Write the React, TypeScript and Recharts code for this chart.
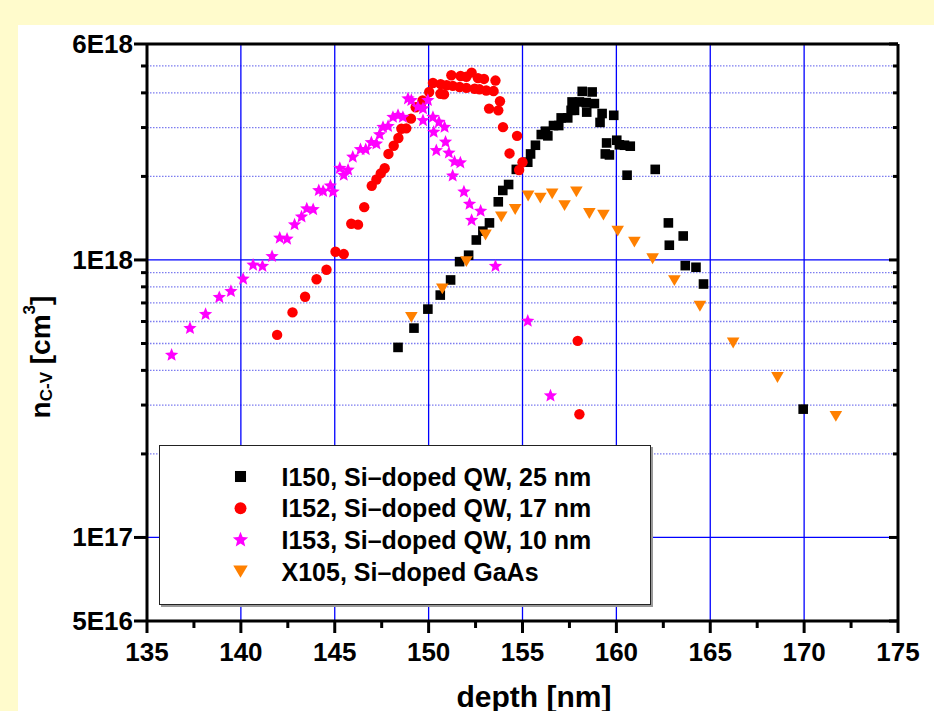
import React from 'react';
import {
  ScatterChart,
  Scatter,
  XAxis,
  YAxis,
  ReferenceLine,
  Legend,
} from 'recharts';

// ---------- data ----------
const I150_DEPTH = [
  148.37, 149.22, 149.96, 150.62, 151.17, 151.65, 152.13, 152.54, 152.89, 153.24, 153.71, 153.95, 154.26,
  154.67, 155.28, 155.43, 155.69, 156.0, 156.22, 156.35, 156.65, 156.93, 157.06, 157.41, 157.59, 157.77,
  157.64, 158.03, 158.39, 158.83, 158.18, 158.71, 158.42, 159.24, 159.13, 159.86, 159.48, 159.41, 159.63,
  160.02, 160.16, 160.43, 160.74, 160.57, 162.07, 162.77, 162.82, 163.56, 163.67, 164.24, 164.64, 169.95,
];
const I150_N = [
  4.84e17, 5.68e17, 6.65e17, 7.47e17, 8.47e17, 9.86e17, 1.04e18, 1.18e18, 1.27e18, 1.36e18, 1.62e18, 1.78e18, 1.87e18,
  2.12e18, 2.25e18, 2.41e18, 2.59e18, 2.83e18, 2.91e18, 2.8e18, 3.05e18, 3.05e18, 3.25e18, 3.25e18, 3.46e18, 3.46e18,
  3.71e18, 3.71e18, 3.69e18, 3.66e18, 4.05e18, 4.03e18, 3.41e18, 3.37e18, 3.13e18, 3.32e18, 2.64e18, 2.41e18, 2.39e18,
  2.7e18, 2.6e18, 2.59e18, 2.57e18, 2.02e18, 2.12e18, 1.36e18, 1.13e18, 1.22e18, 9.54e17, 9.41e17, 8.19e17, 2.9e17,
];

const I152_DEPTH = [
  141.93, 142.75, 143.42, 144.03, 144.56, 145.04, 145.48, 145.88, 146.24, 146.57, 146.97, 147.22, 147.45,
  147.66, 147.86, 148.14, 148.39, 148.55, 148.81, 149.06, 149.31, 149.57, 149.68, 150.03, 150.23, 150.63,
  150.82, 150.64, 150.96, 151.29, 151.65, 152.01, 152.45, 152.71, 153.07, 153.46, 151.21, 151.7, 152.01,
  152.29, 152.63, 152.95, 153.56, 153.8, 153.22, 153.71, 153.96, 154.71, 154.31, 155.0, 154.82, 157.94, 158.03,
];
const I152_N = [
  5.37e17, 6.47e17, 7.37e17, 8.52e17, 9.22e17, 1.07e18, 1.05e18, 1.35e18, 1.34e18, 1.55e18, 1.85e18, 1.95e18, 2.05e18,
  2.14e18, 2.41e18, 2.58e18, 2.75e18, 2.97e18, 2.98e18, 3.23e18, 3.55e18, 3.6e18, 3.76e18, 4.03e18, 4.34e18, 3.97e18,
  3.95e18, 4.3e18, 4.26e18, 4.24e18, 4.2e18, 4.17e18, 4.14e18, 4.12e18, 4.08e18, 4.06e18, 4.63e18, 4.6e18, 4.57e18,
  4.73e18, 4.52e18, 4.49e18, 4.43e18, 3.73e18, 3.51e18, 3.46e18, 3.01e18, 2.8e18, 2.42e18, 2.25e18, 2.11e18, 5.11e17, 2.78e17,
];

const I153_DEPTH = [
  136.31, 137.29, 138.12, 138.85, 139.47, 140.12, 140.65, 141.15, 141.66, 142.07, 142.46, 142.86, 143.23,
  143.51, 143.85, 144.15, 144.38, 144.77, 144.91, 145.27, 145.48, 145.71, 145.96, 146.37, 146.65, 146.95,
  147.22, 147.39, 147.57, 147.84, 148.1, 148.37, 148.63, 148.9, 149.08, 149.43, 149.7, 149.7, 149.96, 150.23,
  150.27, 150.41, 150.55, 150.85, 150.9, 151.08, 151.38, 151.69, 151.28, 151.88, 152.18, 152.77, 152.29,
  153.56, 155.28, 156.49,
];
const I153_N = [
  4.54e17, 5.67e17, 6.37e17, 7.33e17, 7.71e17, 8.54e17, 9.59e17, 9.49e17, 1.03e18, 1.2e18, 1.19e18, 1.34e18, 1.43e18,
  1.53e18, 1.52e18, 1.78e18, 1.77e18, 1.85e18, 1.76e18, 2.14e18, 2.02e18, 2.11e18, 2.35e18, 2.5e18, 2.5e18, 2.65e18,
  2.62e18, 2.83e18, 3.01e18, 3.03e18, 3.27e18, 3.32e18, 3.27e18, 3.81e18, 3.76e18, 3.56e18, 3.51e18, 3.18e18, 3.76e18, 3.27e18,
  2.89e18, 2.48e18, 3.14e18, 3.01e18, 2.66e18, 2.43e18, 2.26e18, 2.24e18, 2.01e18, 1.76e18, 1.59e18, 1.5e18, 1.39e18,
  9.49e17, 6.02e17, 3.24e17,
];

const X105_DEPTH = [
  149.08, 150.73, 152.01, 153.03, 153.87, 154.61, 155.3, 155.95, 156.58, 157.24, 157.87, 158.56, 159.31,
  160.07, 160.96, 161.93, 163.09, 164.45, 166.22, 168.58, 171.69,
];
const X105_N = [
  6.21e17, 7.86e17, 9.86e17, 1.23e18, 1.43e18, 1.52e18, 1.7e18, 1.67e18, 1.73e18, 1.57e18, 1.76e18, 1.47e18, 1.45e18,
  1.27e18, 1.16e18, 1.01e18, 8.42e17, 6.81e17, 5.02e17, 3.77e17, 2.73e17,
];

const SERIES_NAMES = [
  'I150, Si–doped QW, 25 nm',
  'I152, Si–doped QW, 17 nm',
  'I153, Si–doped QW, 10 nm',
  'X105, Si–doped GaAs',
];

// axis ticks
const X_TICKS = [135, 137.5, 140, 142.5, 145, 147.5, 150, 152.5, 155, 157.5, 160, 162.5, 165, 167.5, 170, 172.5, 175];
const X_GRID = [140, 145, 150, 155, 160, 165, 170];
const Y_MAJOR = [5e16, 1e17, 1e18, 6e18];
const Y_LABELS = ['5E16', '1E17', '1E18', '6E18'];
const Y_MINOR = [2e17, 3e17, 4e17, 5e17, 6e17, 7e17, 8e17, 9e17, 2e18, 3e18, 4e18, 5e18];
const Y_GRID = [1e17, 1e18];

const FONT = '"Liberation Sans", Arial, Helvetica, sans-serif';
const W = 934;
const H = 711;

const toPoints = (xs: number[], ys: number[]) => xs.map((x, i) => ({ x, y: ys[i] }));

const SERIES = [
  { name: SERIES_NAMES[0], data: toPoints(I150_DEPTH, I150_N), color: '#000000', kind: 'square' },
  { name: SERIES_NAMES[1], data: toPoints(I152_DEPTH, I152_N), color: '#ff0000', kind: 'circle' },
  { name: SERIES_NAMES[2], data: toPoints(I153_DEPTH, I153_N), color: '#ff00ff', kind: 'star' },
  { name: SERIES_NAMES[3], data: toPoints(X105_DEPTH, X105_N), color: '#ff8000', kind: 'triangle' },
];

// ---------- markers ----------
function starPath(cx: number, cy: number, R: number, r: number) {
  const pts: string[] = [];
  for (let i = 0; i < 10; i++) {
    const a = -Math.PI / 2 + (i * Math.PI) / 5;
    const rad = i % 2 === 0 ? R : r;
    pts.push(`${(cx + rad * Math.cos(a)).toFixed(2)},${(cy + rad * Math.sin(a)).toFixed(2)}`);
  }
  return `M${pts.join('L')}Z`;
}

function Marker({ kind, cx, cy, color, s = 1 }: { kind: string; cx: number; cy: number; color: string; s?: number }) {
  if (cx == null || cy == null) return null;
  if (kind === 'square') {
    const h = 4.8 * s;
    return <rect x={cx - h} y={cy - h} width={2 * h} height={2 * h} fill={color} />;
  }
  if (kind === 'circle') return <circle cx={cx} cy={cy} r={5.2 * s} fill={color} />;
  if (kind === 'star') return <path d={starPath(cx, cy, 7 * s, 3.1 * s)} fill={color} />;
  const w = 6.3 * s;
  const h = 5.4 * s;
  return <path d={`M${cx - w},${cy - h}L${cx + w},${cy - h}L${cx},${cy + h}Z`} fill={color} />;
}

// ---------- axis ticks ----------
const tickText = { fontFamily: FONT, fontWeight: 700, fontSize: 26, fill: '#000' };

const BottomTick = (p: any) => {
  const v = p.payload.value;
  const major = v % 5 === 0;
  return (
    <g>
      <line x1={p.x} x2={p.x} y1={p.y} y2={p.y + (major ? 12 : 7)} stroke="#000" strokeWidth={3} />
      {major && (
        <text x={p.x} y={p.y + 31} textAnchor="middle" dominantBaseline="central" {...tickText}>
          {v}
        </text>
      )}
    </g>
  );
};

const TopTick = (p: any) => {
  const major = p.payload.value % 5 === 0;
  return <line x1={p.x} x2={p.x} y1={p.y} y2={p.y + (major ? 13 : 6)} stroke="#000" strokeWidth={3} />;
};

const LeftTick = (p: any) => {
  const v = p.payload.value;
  const idx = Y_MAJOR.indexOf(v);
  const major = idx >= 0;
  return (
    <g>
      <line x1={p.x} x2={p.x - (major ? 13 : 6)} y1={p.y} y2={p.y} stroke="#000" strokeWidth={3} />
      {major && (
        <text x={p.x - 14} y={p.y} textAnchor="end" dominantBaseline="central" {...tickText}>
          {Y_LABELS[idx]}
        </text>
      )}
    </g>
  );
};

const RightTick = (p: any) => {
  const major = Y_MAJOR.indexOf(p.payload.value) >= 0;
  return <line x1={p.x} x2={p.x - (major ? 9 : 5)} y1={p.y} y2={p.y} stroke="#000" strokeWidth={3} />;
};

const YTitle = () => (
  <text
    x={40}
    y={357}
    transform="rotate(-90, 40, 357)"
    textAnchor="middle"
    dominantBaseline="central"
    fontFamily={FONT}
    fontWeight={700}
    fontSize={28}
    fill="#000"
  >
    n
    <tspan fontSize={17} dy={6}>C-V</tspan>
    <tspan fontSize={28} dy={-6}> [cm</tspan>
    <tspan fontSize={17} dy={-11}>3</tspan>
    <tspan fontSize={28} dy={11}>]</tspan>
  </text>
);

const XTitle = () => (
  <text x={534} y={696} textAnchor="middle" dominantBaseline="central" fontFamily={FONT} fontWeight={700} fontSize={30} fill="#000">
    depth [nm]
  </text>
);

const renderLegend = () => (
  <div
    style={{
      width: 492,
      height: 160,
      boxSizing: 'border-box',
      background: '#fff',
      border: '1.5px solid #222',
      boxShadow: '2px 2px 0 #999',
    }}
  >
    <svg width={489} height={157} style={{ display: 'block' }}>
      {SERIES.map((s, i) => (
        <g key={s.name}>
          <Marker kind={s.kind} cx={80.5} cy={30.5 + i * 31.7} color={s.color} s={1.15} />
          <text x={121.5} y={30.5 + i * 31.7} dominantBaseline="central" {...tickText} fontSize={25}>
            {s.name}
          </text>
        </g>
      ))}
    </svg>
  </div>
);

const axisLine = { stroke: '#000', strokeWidth: 3 };

export default function App() {
  return (
    <div style={{ position: 'absolute', left: 0, top: 0, width: W, height: H, background: '#fffbcc', overflow: 'hidden' }}>
      <div style={{ position: 'absolute', left: 18, top: 25, right: 0, bottom: 0, background: '#fff' }} />
      <div style={{ position: 'absolute', left: 0, top: 0 }}>
        <ScatterChart width={W} height={H} margin={{ top: 34, right: 26, bottom: 40, left: 47 }}>
          <XAxis
            dataKey="x"
            type="number"
            domain={[135, 175]}
            allowDataOverflow
            ticks={X_TICKS}
            interval={0}
            height={50}
            tickSize={0}
            tickMargin={0}
            tickLine={false}
            axisLine={axisLine}
            tick={BottomTick}
            label={<XTitle />}
          />
          <XAxis
            xAxisId="top"
            orientation="top"
            type="number"
            domain={[135, 175]}
            allowDataOverflow
            ticks={X_TICKS}
            interval={0}
            height={10}
            tickSize={0}
            tickMargin={0}
            tickLine={false}
            axisLine={axisLine}
            tick={TopTick}
          />
          <YAxis
            dataKey="y"
            type="number"
            scale="log"
            domain={[5e16, 6e18]}
            allowDataOverflow
            ticks={[...Y_MAJOR, ...Y_MINOR]}
            interval={0}
            width={100}
            tickSize={0}
            tickMargin={0}
            tickLine={false}
            axisLine={axisLine}
            tick={LeftTick}
            label={<YTitle />}
          />
          <YAxis
            yAxisId="right"
            orientation="right"
            type="number"
            scale="log"
            domain={[5e16, 6e18]}
            allowDataOverflow
            ticks={[...Y_MAJOR, ...Y_MINOR]}
            interval={0}
            width={10}
            tickSize={0}
            tickMargin={0}
            tickLine={false}
            axisLine={axisLine}
            tick={RightTick}
          />
          {Y_MINOR.map((v) => (
            <ReferenceLine key={`ym${v}`} y={v} stroke="#7c7cf0" strokeWidth={1.3} strokeDasharray="1.5 1.5" />
          ))}
          {Y_GRID.map((v) => (
            <ReferenceLine key={`yg${v}`} y={v} stroke="#0000ff" strokeWidth={1.3} />
          ))}
          {X_GRID.map((v) => (
            <ReferenceLine key={`xg${v}`} x={v} stroke="#0000ff" strokeWidth={1.3} />
          ))}
          {SERIES.map((s) => (
            <Scatter
              key={s.name}
              name={s.name}
              data={s.data}
              fill={s.color}
              isAnimationActive={false}
              shape={(p: any) => <Marker kind={s.kind} cx={p.cx} cy={p.cy} color={s.color} />}
            />
          ))}
          <Legend
            layout="vertical"
            align="center"
            verticalAlign="middle"
            wrapperStyle={{ left: 159, top: 445, width: 492, height: 160 }}
            content={renderLegend}
          />
        </ScatterChart>
      </div>
    </div>
  );
}
